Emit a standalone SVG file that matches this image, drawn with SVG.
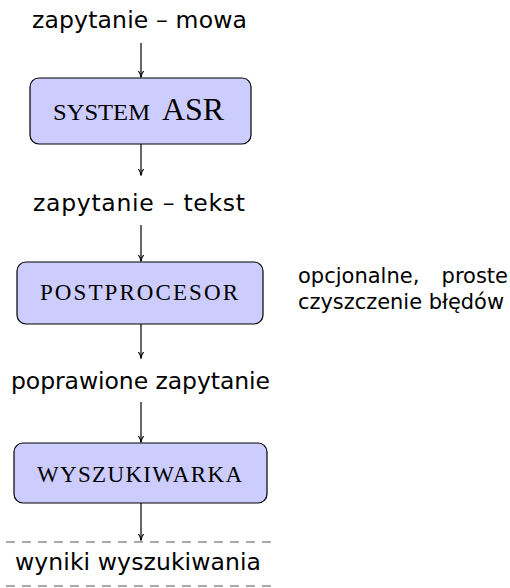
<svg xmlns="http://www.w3.org/2000/svg" width="510" height="588" viewBox="0 0 510 588">
<style>
.lbl{font-family:"DejaVu Sans","Noto Sans",sans-serif;font-size:23.5px;fill:#000}
.note{font-family:"DejaVu Sans","Noto Sans",sans-serif;font-size:21px;fill:#000}
.box{fill:#ccccff;stroke:#000;stroke-width:1.2}
.bt{font-family:"Liberation Serif","Times New Roman",serif;font-size:23px;fill:#000}
.big{font-size:32px}
.arr{stroke:#000;stroke-width:1.2;fill:none;marker-end:url(#ah)}
.dash{stroke:#555;stroke-width:1.2;stroke-dasharray:9,7}
</style>
<defs>
<marker id="ah" viewBox="0 0 10 10" refX="9" refY="5" markerWidth="7" markerHeight="7" markerUnits="userSpaceOnUse" orient="auto">
<path d="M0,1 Q5,5 10,5 Q5,5 0,9" fill="none" stroke="#000" stroke-width="1.5"/>
</marker>
</defs>
<g id="in"><text class="lbl" x="32" y="28" textLength="215" lengthAdjust="spacing">zapytanie – mowa</text></g>
<g id="asr"><rect class="box" x="30" y="78" width="221" height="66" rx="9"/><text class="bt" y="120"><tspan x="53" textLength="97" lengthAdjust="spacingAndGlyphs">SYSTEM</tspan><tspan class="big" x="162" textLength="62" lengthAdjust="spacingAndGlyphs">ASR</tspan></text></g>
<g id="txt"><text class="lbl" x="33" y="211" textLength="212" lengthAdjust="spacing">zapytanie – tekst</text></g>
<g id="post"><rect class="box" x="17" y="262" width="246" height="62" rx="9"/><text class="bt" x="40" y="300" textLength="198" lengthAdjust="spacing">POSTPROCESOR</text></g>
<g id="note"><text class="note" x="298" y="283">opcjonalne,</text><text class="note" x="508" y="283" text-anchor="end">proste</text><text class="note" x="298" y="309" textLength="206" lengthAdjust="spacingAndGlyphs">czyszczenie błędów</text></g>
<g id="fix"><text class="lbl" x="11" y="389" textLength="259" lengthAdjust="spacing">poprawione zapytanie</text></g>
<g id="search"><rect class="box" x="14" y="443" width="253" height="60" rx="9"/><text class="bt" x="37" y="482" textLength="205" lengthAdjust="spacing">WYSZUKIWARKA</text></g>
<g id="out"><line class="dash" x1="6" y1="542" x2="272" y2="542"/><text class="lbl" x="15" y="570" textLength="246" lengthAdjust="spacing">wyniki wyszukiwania</text><line class="dash" x1="6" y1="586" x2="272" y2="586"/></g>
<g id="connectors">
<line class="arr" x1="141" y1="43" x2="141" y2="77"/>
<line class="arr" x1="141" y1="144" x2="141" y2="175"/>
<line class="arr" x1="141" y1="225" x2="141" y2="261"/>
<line class="arr" x1="141" y1="324" x2="141" y2="358"/>
<line class="arr" x1="141" y1="402" x2="141" y2="442"/>
<line class="arr" x1="141" y1="503" x2="141" y2="540"/>
</g>
</svg>
